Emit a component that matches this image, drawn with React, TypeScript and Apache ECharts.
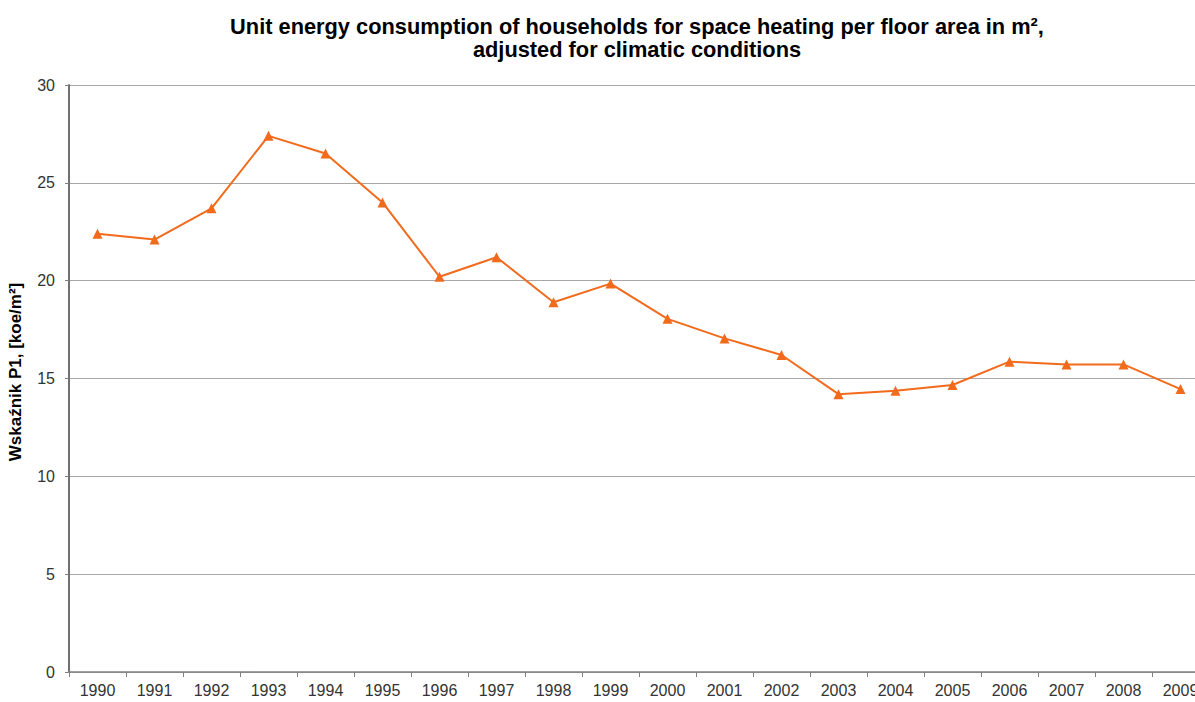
import React, { useEffect, useRef } from "react";
import * as echarts from "echarts";

const years = ["1990","1991","1992","1993","1994","1995","1996","1997","1998","1999","2000","2001","2002","2003","2004","2005","2006","2007","2008","2009"];
const values = [22.4, 22.1, 23.7, 27.4, 26.5, 24.0, 20.2, 21.2, 18.9, 19.85, 18.05, 17.05, 16.2, 14.2, 14.37, 14.67, 15.86, 15.72, 15.72, 14.46];
const titleLine1 = "Unit energy consumption of households for space heating per floor area in m²,";
const titleLine2 = "adjusted for climatic conditions";
const yName = "Wskaźnik P1, [koe/m²]";

export default function App() {
  const ref = useRef<HTMLDivElement>(null);
  useEffect(() => {
    const chart = echarts.init(ref.current!, null, { renderer: "svg" });
    chart.setOption({
      animation: false,
      backgroundColor: "#ffffff",
      title: {
        text: titleLine1 + "\n" + titleLine2,
        left: 632,
        top: 10,
        textAlign: "center",
        textStyle: { fontFamily: "Liberation Sans, Arial, sans-serif", fontWeight: "bold", fontSize: 21.8, color: "#000", lineHeight: 23 },
      },
      graphic: [
        {
          type: "text",
          x: 15,
          y: 372,
          rotation: Math.PI / 2,
          style: {
            text: yName,
            fill: "#000",
            font: "bold 17px 'Liberation Sans', Arial, sans-serif",
            textAlign: "center",
            textVerticalAlign: "middle",
          },
        },
      ],
      grid: { left: 69, top: 85, width: 1140, height: 587, containLabel: false, outerBoundsMode: "none" },
      xAxis: {
        type: "category",
        data: years,
        boundaryGap: true,
        axisLine: { show: true, lineStyle: { color: "#808080", width: 1.5 } },
        axisTick: { show: true, alignWithLabel: false, length: 5, lineStyle: { color: "#808080" } },
        axisLabel: { color: "#333", fontSize: 16, fontFamily: "Liberation Sans, Arial, sans-serif", margin: 10, interval: 0 },
        splitLine: { show: false },
      },
      yAxis: {
        type: "value",
        min: 0,
        max: 30,
        interval: 5,
        axisLine: { show: true, lineStyle: { color: "#707070", width: 2 } },
        axisTick: { show: true, length: 4, lineStyle: { color: "#808080" } },
        axisLabel: { color: "#333", fontSize: 16, fontFamily: "Liberation Sans, Arial, sans-serif", margin: 14 },
        splitLine: { show: true, lineStyle: { color: "#a8a8a8", width: 1 } },
      },
      series: [
        {
          type: "line",
          data: values,
          symbol: "triangle",
          symbolSize: 10,
          lineStyle: { color: "#F26A1B", width: 2 },
          itemStyle: { color: "#F26A1B" },
        },
      ],
    });
    return () => chart.dispose();
  }, []);
  return <div ref={ref} style={{ position: "fixed", left: 0, top: 0, width: 1195, height: 702 }} />;
}
